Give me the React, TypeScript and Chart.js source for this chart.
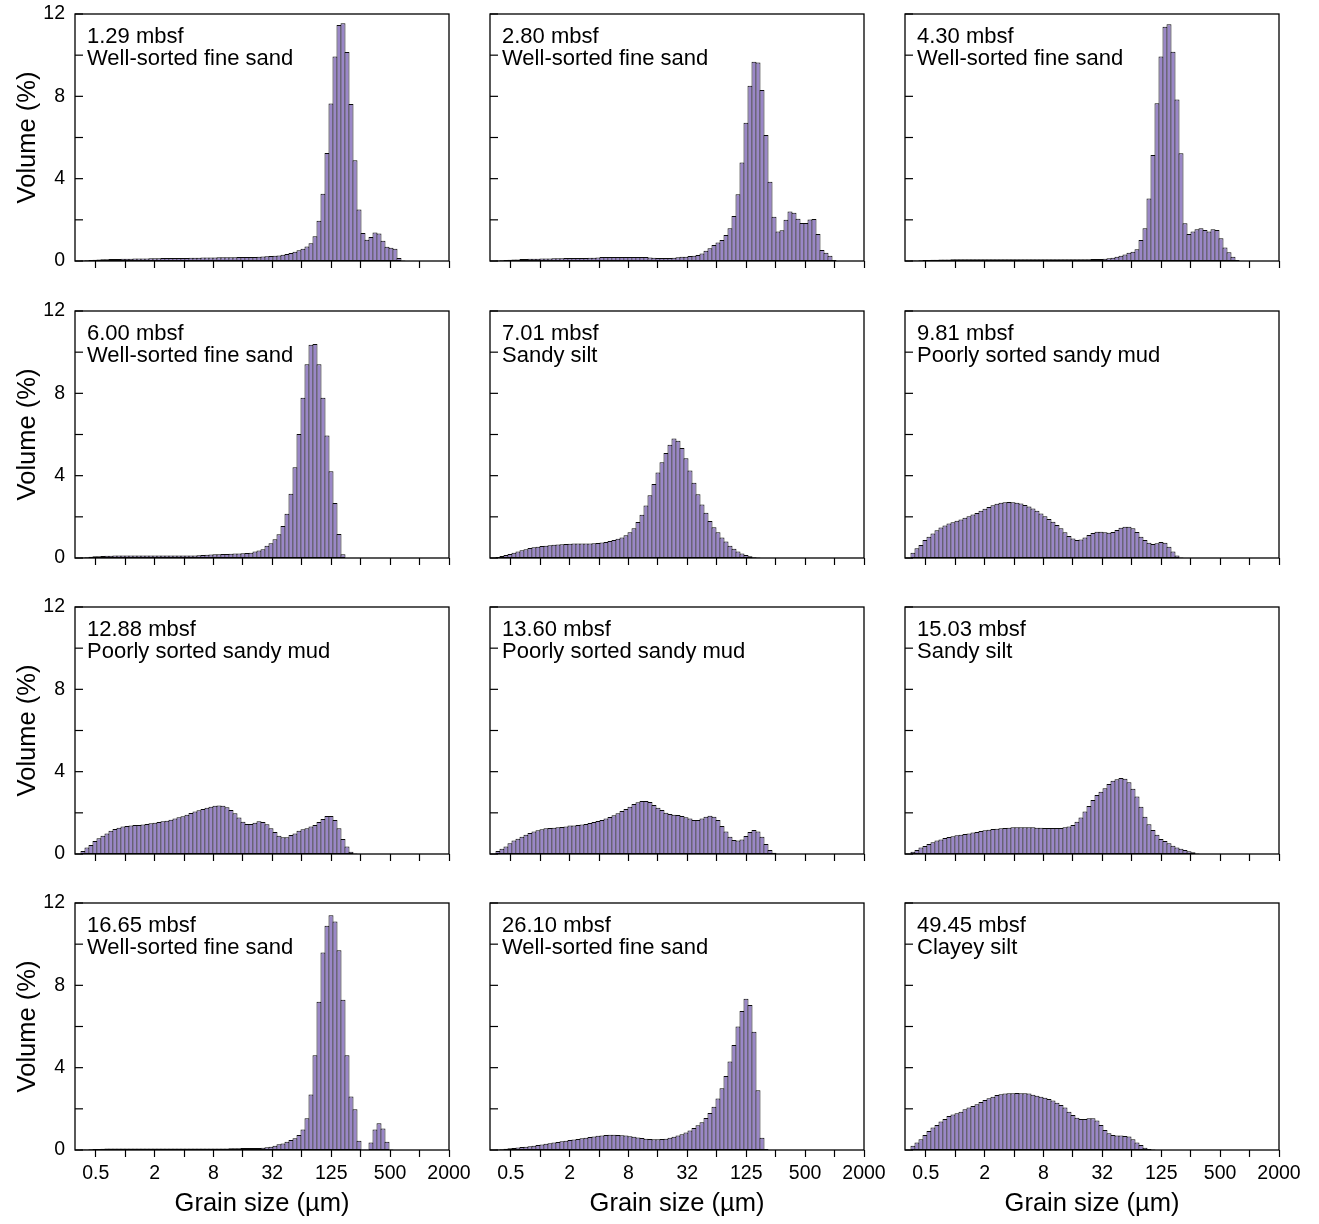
import React, { useEffect, useRef } from 'react';
import { Chart, registerables } from 'chart.js';

Chart.register(...registerables);

// ---- x categories: 92 log-spaced size classes from 11.5 phi to -1 phi (µm) ----
const SIZE_MIN_UM = 1000 * Math.pow(2, -11.5);
const SIZE_MAX_UM = 2000;
const BIN_COUNT = 92;
const binCenters: number[] = Array.from({ length: BIN_COUNT }, (_, k) =>
  SIZE_MIN_UM * Math.pow(SIZE_MAX_UM / SIZE_MIN_UM, (k + 0.5) / BIN_COUNT)
);

// ---- tick labels ----
const xTickValues = [0.48828125, 0.9765625, 1.953125, 3.90625, 7.8125, 15.625, 31.25, 62.5, 125, 250, 500, 1000, 2000];
const xTickLabels = ['0.5', '', '2', '', '8', '', '32', '', '125', '', '500', '', '2000'];
const yTickValues = [0, 2, 4, 6, 8, 10, 12];
const yTickLabels = ['0', '', '4', '', '8', '', '12'];

// ---- panel captions ----
const depths = ['1.29 mbsf', '2.80 mbsf', '4.30 mbsf', '6.00 mbsf', '7.01 mbsf', '9.81 mbsf',
  '12.88 mbsf', '13.60 mbsf', '15.03 mbsf', '16.65 mbsf', '26.10 mbsf', '49.45 mbsf'];
const lithologies = ['Well-sorted fine sand', 'Well-sorted fine sand', 'Well-sorted fine sand',
  'Well-sorted fine sand', 'Sandy silt', 'Poorly sorted sandy mud', 'Poorly sorted sandy mud',
  'Poorly sorted sandy mud', 'Sandy silt', 'Well-sorted fine sand', 'Well-sorted fine sand', 'Clayey silt'];

// ---- volume (%) per size class ----
const vol_1_29 = [0.03,0.04,0.05,0.06,0.07,0.08,0.09,0.10,0.10,0.10,
  0.11,0.11,0.11,0.12,0.12,0.12,0.12,0.13,0.13,0.13,
  0.14,0.14,0.14,0.15,0.15,0.15,0.15,0.16,0.16,0.16,
  0.17,0.17,0.17,0.17,0.18,0.18,0.18,0.18,0.18,0.19,
  0.19,0.19,0.19,0.20,0.21,0.22,0.23,0.24,0.25,0.27,
  0.30,0.34,0.39,0.45,0.52,0.60,0.70,0.86,1.20,1.95,
  3.27,5.25,7.65,9.93,11.47,11.55,10.15,7.63,4.90,2.50,
  1.36,1.03,1.16,1.38,1.33,0.98,0.69,0.64,0.60,0.14,
  0.02];
const vol_2_80 = [0.03,0.04,0.05,0.06,0.07,0.07,0.10,0.10,0.11,0.11,
  0.11,0.12,0.12,0.12,0.13,0.13,0.13,0.14,0.14,0.14,
  0.15,0.15,0.15,0.16,0.16,0.17,0.19,0.19,0.19,0.19,
  0.19,0.19,0.19,0.19,0.19,0.19,0.19,0.19,0.17,0.16,
  0.15,0.14,0.14,0.15,0.16,0.18,0.21,0.21,0.24,0.26,
  0.29,0.37,0.50,0.62,0.78,0.90,1.02,1.26,1.59,2.19,
  3.24,4.78,6.72,8.52,9.68,9.64,8.31,6.12,3.85,2.15,
  1.43,1.50,2.00,2.40,2.35,2.05,1.85,1.85,2.02,2.04,
  1.31,0.53,0.40,0.26,0.05];
const vol_4_30 = [0.02,0.03,0.04,0.05,0.05,0.06,0.06,0.07,0.07,0.07,
  0.08,0.08,0.08,0.08,0.08,0.08,0.08,0.08,0.08,0.08,
  0.08,0.08,0.08,0.08,0.08,0.08,0.08,0.08,0.08,0.08,
  0.08,0.08,0.08,0.08,0.08,0.08,0.08,0.08,0.08,0.08,
  0.08,0.08,0.08,0.08,0.09,0.10,0.10,0.10,0.11,0.13,
  0.16,0.21,0.26,0.32,0.40,0.45,0.57,1.02,1.59,3.04,
  5.15,7.66,9.93,11.38,11.50,10.17,7.85,5.23,1.83,1.31,
  1.43,1.54,1.59,1.51,1.43,1.54,1.51,1.10,0.66,0.42,
  0.21,0.05];
const vol_6_00 = [0.02,0.04,0.06,0.08,0.09,0.10,0.11,0.11,0.12,0.12,
  0.12,0.12,0.12,0.12,0.12,0.12,0.12,0.12,0.12,0.12,
  0.12,0.12,0.12,0.12,0.12,0.12,0.12,0.12,0.12,0.13,
  0.15,0.16,0.17,0.18,0.18,0.19,0.20,0.21,0.22,0.22,
  0.23,0.24,0.26,0.31,0.36,0.42,0.59,0.72,0.91,1.15,
  1.56,2.15,3.12,4.41,6.03,7.79,9.41,10.36,10.40,9.41,
  7.79,5.95,4.21,2.67,1.17,0.18];
const vol_7_01 = [0.05,0.10,0.15,0.20,0.26,0.32,0.38,0.43,0.48,0.52,
  0.55,0.58,0.60,0.62,0.64,0.66,0.67,0.68,0.69,0.70,
  0.70,0.70,0.70,0.71,0.72,0.73,0.75,0.78,0.82,0.87,
  0.93,1.00,1.10,1.25,1.45,1.75,2.10,2.55,3.05,3.60,
  4.15,4.65,5.10,5.50,5.80,5.70,5.35,4.85,4.25,3.65,
  3.10,2.60,2.20,1.80,1.50,1.25,1.00,0.80,0.60,0.45,
  0.32,0.22,0.14,0.08,0.04,0.02];
const vol_9_81 = [0.26,0.47,0.63,0.87,1.03,1.19,1.35,1.48,1.58,1.68,
  1.74,1.81,1.87,1.95,2.03,2.11,2.19,2.29,2.39,2.48,
  2.56,2.63,2.68,2.71,2.72,2.71,2.69,2.65,2.58,2.50,
  2.40,2.29,2.16,2.03,1.90,1.76,1.60,1.44,1.25,1.07,
  0.95,0.87,0.90,1.00,1.12,1.22,1.28,1.28,1.25,1.23,
  1.26,1.36,1.47,1.52,1.52,1.44,1.26,1.03,0.87,0.74,
  0.68,0.72,0.78,0.74,0.55,0.32,0.12,0.03];
const vol_12_88 = [0.15,0.31,0.44,0.63,0.76,0.89,1.00,1.13,1.21,1.28,
  1.33,1.36,1.39,1.41,1.41,1.43,1.46,1.49,1.52,1.55,
  1.59,1.62,1.67,1.73,1.78,1.83,1.91,1.99,2.06,2.12,
  2.19,2.25,2.30,2.35,2.36,2.35,2.27,2.14,1.98,1.77,
  1.57,1.46,1.46,1.52,1.59,1.55,1.44,1.25,1.07,0.89,
  0.81,0.81,0.92,1.00,1.13,1.20,1.25,1.33,1.41,1.55,
  1.70,1.85,1.85,1.65,1.25,0.73,0.36,0.11,0.03];
const vol_13_60 = [0.15,0.26,0.36,0.52,0.65,0.74,0.84,0.94,1.02,1.09,
  1.15,1.20,1.25,1.26,1.28,1.30,1.31,1.34,1.38,1.39,
  1.41,1.43,1.46,1.51,1.55,1.60,1.65,1.72,1.80,1.88,
  1.98,2.09,2.19,2.30,2.43,2.51,2.57,2.57,2.53,2.38,
  2.25,2.14,2.01,1.94,1.91,1.89,1.85,1.78,1.72,1.65,
  1.65,1.72,1.81,1.86,1.81,1.65,1.36,1.09,0.84,0.68,
  0.65,0.71,0.87,1.07,1.17,1.09,0.84,0.49,0.19,0.06];
const vol_15_03 = [0.11,0.19,0.31,0.39,0.49,0.57,0.65,0.71,0.78,0.83,
  0.86,0.91,0.94,0.97,1.00,1.04,1.07,1.12,1.15,1.18,
  1.21,1.23,1.25,1.26,1.28,1.30,1.30,1.30,1.30,1.30,
  1.30,1.28,1.28,1.26,1.26,1.26,1.26,1.26,1.30,1.33,
  1.41,1.57,1.77,2.06,2.33,2.62,2.87,3.03,3.19,3.40,
  3.56,3.63,3.69,3.66,3.48,3.17,2.79,2.30,1.81,1.44,
  1.17,0.94,0.73,0.63,0.52,0.40,0.32,0.26,0.19,0.13,
  0.08,0.03];
const vol_16_65 = [0.02,0.03,0.04,0.05,0.05,0.06,0.07,0.07,0.07,0.07,
  0.07,0.07,0.07,0.07,0.07,0.07,0.07,0.07,0.07,0.07,
  0.07,0.07,0.07,0.07,0.07,0.07,0.07,0.07,0.07,0.07,
  0.07,0.07,0.07,0.07,0.07,0.07,0.07,0.08,0.09,0.09,
  0.10,0.10,0.10,0.10,0.10,0.11,0.13,0.16,0.21,0.28,
  0.32,0.40,0.49,0.57,0.73,1.00,1.54,2.70,4.60,7.20,
  9.60,10.90,11.40,11.10,9.70,7.30,4.60,2.60,1.98,0.45,
  0.02,0.02,0.36,1.00,1.30,1.05,0.40,0.03];
const vol_26_10 = [0.02,0.04,0.06,0.08,0.10,0.12,0.14,0.16,0.18,0.21,
  0.24,0.27,0.30,0.33,0.36,0.39,0.42,0.45,0.48,0.51,
  0.54,0.57,0.60,0.63,0.66,0.69,0.71,0.73,0.74,0.74,
  0.73,0.72,0.70,0.67,0.64,0.61,0.58,0.55,0.53,0.52,
  0.52,0.53,0.55,0.59,0.64,0.70,0.77,0.85,0.95,1.07,
  1.20,1.35,1.55,1.80,2.10,2.50,3.00,3.60,4.30,5.10,
  6.00,6.75,7.35,7.05,5.75,2.90,0.60,0.05];
const vol_49_45 = [0.21,0.36,0.52,0.73,0.92,1.09,1.22,1.38,1.51,1.65,
  1.73,1.78,1.86,1.98,2.06,2.14,2.22,2.33,2.43,2.51,
  2.59,2.67,2.71,2.74,2.76,2.76,2.77,2.76,2.76,2.74,
  2.69,2.64,2.59,2.54,2.48,2.40,2.30,2.19,2.06,1.86,
  1.70,1.57,1.51,1.51,1.54,1.54,1.43,1.22,0.97,0.81,
  0.73,0.71,0.71,0.68,0.65,0.52,0.36,0.24,0.11,0.05,
  0.02];

const series = [vol_1_29, vol_2_80, vol_4_30, vol_6_00, vol_7_01, vol_9_81,
  vol_12_88, vol_13_60, vol_15_03, vol_16_65, vol_26_10, vol_49_45];

// ---- layout / style ----
const COL_LEFT = [75, 490, 905];
const ROW_TOP = [14, 311, 607, 903];
const PLOT_W = 374;
const PLOT_H = 247;
const Y_AXIS_W = 75;
const X_AXIS_H = 72;
const PAD_T = 30;
const PAD_R = 30;
const FONT = '"Liberation Sans", Arial, Helvetica, sans-serif';
const FILL = '#9a87c7';
const EDGE = '#0a0a0a';

function Panel({ index }: { index: number }) {
  const ref = useRef<HTMLCanvasElement>(null);
  const row = Math.floor(index / 3);
  const col = index % 3;
  const showY = col === 0;
  const showX = row === 3;
  const cw = Y_AXIS_W + PLOT_W + PAD_R;
  const ch = PAD_T + PLOT_H + X_AXIS_H;

  useEffect(() => {
    const values = series[index];
    const depth = depths[index];
    const lith = lithologies[index];
    const framePlugin = {
      id: 'panelFrame' + index,
      afterDatasetsDraw(chart: any) {
        const { ctx, chartArea } = chart;
        const { left, top, right, bottom } = chartArea;
        const y = chart.scales.y;
        ctx.save();
        ctx.strokeStyle = '#000';
        ctx.lineWidth = 1.3;
        ctx.strokeRect(left, top, right - left, bottom - top);
        ctx.lineWidth = 1.2;
        for (const t of y.ticks) {
          const py = y.getPixelForValue(t.value);
          ctx.beginPath();
          ctx.moveTo(left, py);
          ctx.lineTo(left + 8, py);
          ctx.stroke();
        }
        ctx.fillStyle = '#000';
        ctx.font = '22px ' + FONT;
        ctx.textBaseline = 'alphabetic';
        ctx.textAlign = 'left';
        ctx.fillText(depth, left + 12, top + 29);
        ctx.fillText(lith, left + 12, top + 51);
        ctx.restore();
      },
    };

    const chart = new Chart(ref.current as HTMLCanvasElement, {
      type: 'bar',
      data: {
        datasets: [{
          data: values.map((v, i) => ({ x: binCenters[i], y: v })),
          backgroundColor: FILL,
          borderColor: EDGE,
          borderWidth: 1,
          borderSkipped: false,
          barPercentage: 1.25,
          categoryPercentage: 1,
          grouped: false,
        } as any],
      },
      options: {
        animation: false,
        responsive: false,
        maintainAspectRatio: false,
        events: [],
        layout: { padding: { top: PAD_T, right: PAD_R, left: 0, bottom: 0 } },
        plugins: { legend: { display: false }, tooltip: { enabled: false } },
        scales: {
          x: {
            type: 'logarithmic',
            min: SIZE_MIN_UM,
            max: SIZE_MAX_UM,
            offset: false,
            afterBuildTicks: (s: any) => { s.ticks = xTickValues.map((v) => ({ value: v })); },
            afterFit: (s: any) => { s.height = X_AXIS_H; },
            grid: { display: true, drawOnChartArea: false, drawTicks: true, tickLength: 7, tickColor: '#000', tickWidth: 1.2, offset: false },
            border: { display: false },
            ticks: {
              display: showX, autoSkip: false, maxRotation: 0, minRotation: 0, padding: 5, color: '#000',
              font: { family: FONT, size: 19.5 },
              callback: (_v: any, i: number) => xTickLabels[i],
            },
            title: {
              display: showX, text: 'Grain size (µm)', color: '#000',
              font: { family: FONT, size: 25.5 }, padding: { top: 0, bottom: 3 },
            },
          } as any,
          y: {
            type: 'linear',
            min: 0,
            max: 12,
            afterBuildTicks: (s: any) => { s.ticks = yTickValues.map((v) => ({ value: v })); },
            afterFit: (s: any) => { s.width = Y_AXIS_W; },
            grid: { display: false, drawTicks: false, tickLength: 0 },
            border: { display: false },
            ticks: {
              display: showY, autoSkip: false, padding: 10, color: '#000',
              font: { family: FONT, size: 19.5 },
              callback: (_v: any, i: number) => yTickLabels[i],
            },
            title: {
              display: showY, text: 'Volume (%)', color: '#000',
              font: { family: FONT, size: 25.5 }, padding: { top: 13, bottom: 0 },
            },
          } as any,
        },
      },
      plugins: [framePlugin],
    });
    return () => chart.destroy();
  }, [index]);

  return (
    <canvas
      ref={ref}
      width={cw}
      height={ch}
      style={{
        position: 'absolute',
        left: COL_LEFT[col] - Y_AXIS_W,
        top: ROW_TOP[row] - PAD_T,
        width: cw,
        height: ch,
      }}
    />
  );
}

export default function App() {
  return (
    <div style={{ position: 'absolute', left: 0, top: 0, width: 1319, height: 1224, overflow: 'hidden', background: '#fff' }}>
      {series.map((_, i) => <Panel key={i} index={i} />)}
    </div>
  );
}
